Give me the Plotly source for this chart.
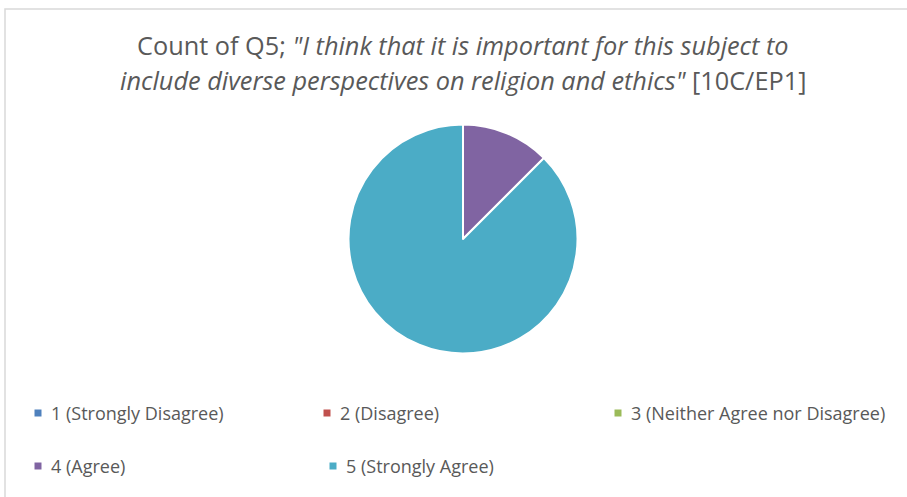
import plotly.graph_objects as go

W, H = 907, 497

categories = ["1 (Strongly Disagree)", "2 (Disagree)", "3 (Neither Agree nor Disagree)",
              "4 (Agree)", "5 (Strongly Agree)"]
counts = [0, 0, 0, 1, 7]
colors = ["#4F81BD", "#C0504D", "#9BBB59", "#8064A2", "#4BACC6"]

title_line1 = 'Count of Q5; <i>"I think that it is important for this subject to</i>'
title_line2 = '<i>include diverse perspectives on religion and ethics"</i> [10C/EP1]'

FONT = "'Open Sans', 'Noto Sans', sans-serif"

cx, cy, r = 463, 239, 114.5

fig = go.Figure()
fig.add_trace(go.Pie(
    labels=categories, values=counts, sort=False, direction="clockwise", rotation=0,
    marker=dict(colors=colors, line=dict(color="white", width=2)),
    textinfo="none", showlegend=False,
    domain=dict(x=[(cx - r) / W, (cx + r) / W], y=[(H - cy - r) / H, (H - cy + r) / H]),
))

def px(x):
    return x / W

def py(y):
    return 1 - y / H

annotations = [
    dict(text=title_line1, x=px(463), y=py(45), xref="paper", yref="paper",
         showarrow=False, xanchor="center", yanchor="middle",
         font=dict(family=FONT, size=25.3, color="#595959")),
    dict(text=title_line2, x=px(463), y=py(80), xref="paper", yref="paper",
         showarrow=False, xanchor="center", yanchor="middle",
         font=dict(family=FONT, size=25.3, color="#595959")),
]
shapes = [
    dict(type="rect", xref="paper", yref="paper", x0=px(5), x1=px(W + 20),
         y0=py(H + 20), y1=py(9), line=dict(color="#D9D9D9", width=1.5), fillcolor="rgba(0,0,0,0)"),
]

legend_pos = [(38, 413), (327, 413), (618, 413), (38, 466), (333, 466)]
for (lx, ly), lab, col in zip(legend_pos, categories, colors):
    shapes.append(dict(type="rect", xref="paper", yref="paper",
                       x0=px(lx - 3.5), x1=px(lx + 3.5), y0=py(ly + 3.5), y1=py(ly - 3.5),
                       fillcolor=col, line=dict(width=0)))
    annotations.append(dict(text=lab, x=px(lx + 11), y=py(ly), xref="paper", yref="paper",
                            showarrow=False, xanchor="left", yanchor="middle",
                            font=dict(family=FONT, size=18, color="#595959")))

fig.update_layout(
    width=W, height=H, margin=dict(l=0, r=0, t=0, b=0),
    paper_bgcolor="white", plot_bgcolor="white",
    annotations=annotations, shapes=shapes,
)

fig.write_html("out.html")
